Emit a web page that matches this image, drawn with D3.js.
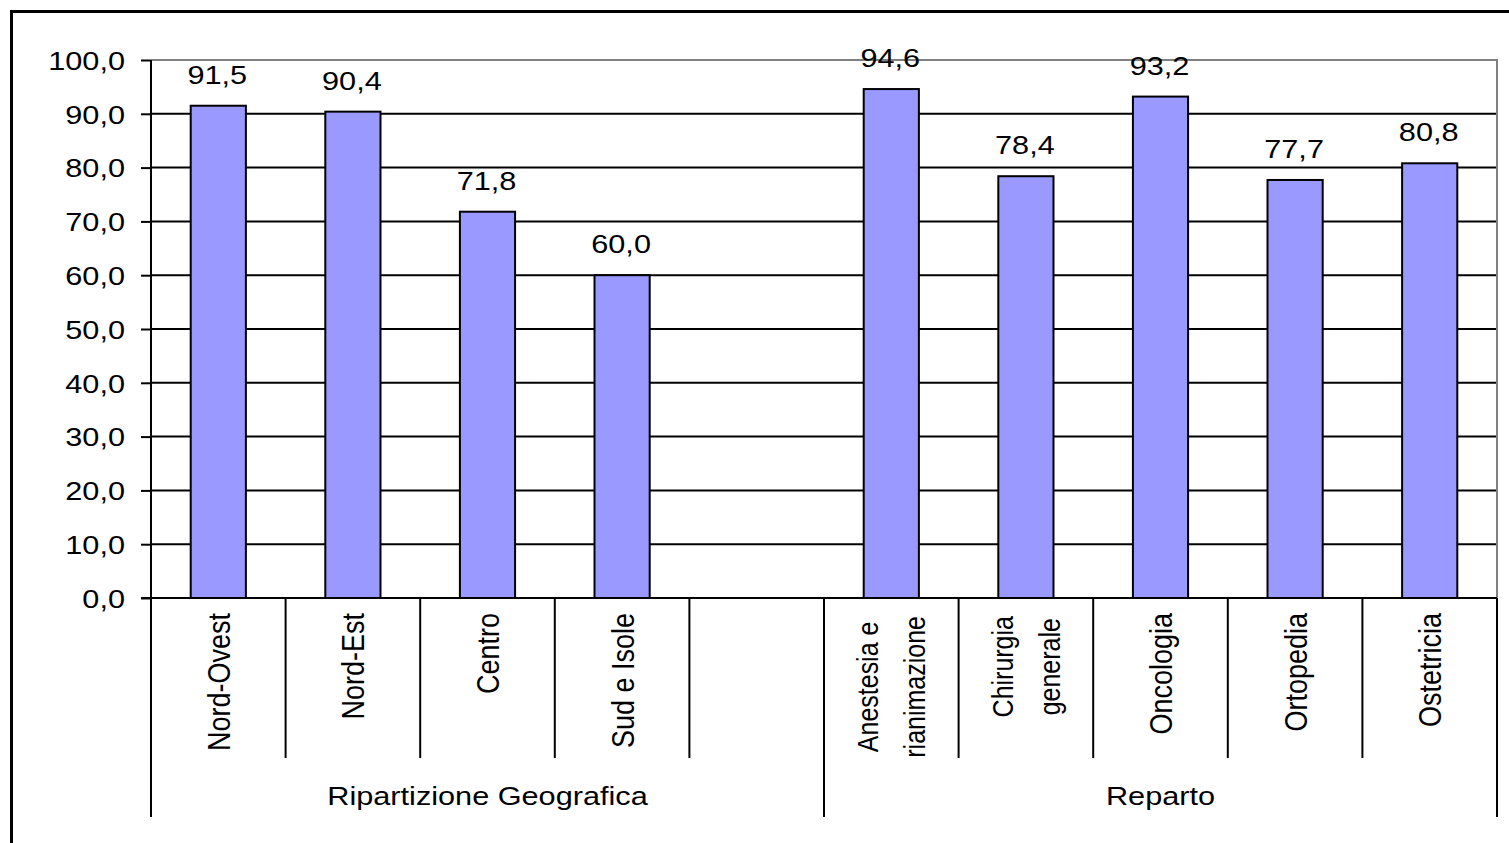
<!DOCTYPE html>
<html><head><meta charset="utf-8">
<script src="https://cdn.jsdelivr.net/npm/d3@7"></script>
<style>body{margin:0;background:#fff}svg{display:block}text{font-family:"Liberation Sans",Arial,sans-serif;fill:#000}</style>
</head><body>
<svg id="c" width="1509" height="843"></svg>
<script>
// Data
const categories = [
  ["Nord-Ovest"], ["Nord-Est"], ["Centro"], ["Sud e Isole"], [],
  ["Anestesia e", "rianimazione"], ["Chirurgia", "generale"], ["Oncologia"], ["Ortopedia"], ["Ostetricia"]
];
const values = [91.5, 90.4, 71.8, 60.0, null, 94.6, 78.4, 93.2, 77.7, 80.8];
const groups = ["Ripartizione Geografica", "Reparto"];
const groupSpans = [[0, 4], [5, 9]];
const yTicks = [0, 10, 20, 30, 40, 50, 60, 70, 80, 90, 100];

const SX = 1.18;
const svg = d3.select("#c");
const L = 151, R = 1497, T = 60, B = 598;
const keys = d3.range(categories.length);
const x = d3.scaleBand().domain(keys).range([L, R]).padding(0);
const y = d3.scaleLinear().domain([0, 100]).range([B, T]);
const fmt = v => d3.format(".1f")(v).replace(".", ",");

// outer border
svg.append("rect").attr("x", 11.5).attr("y", 11.5).attr("width", 1600).attr("height", 900)
  .attr("fill", "none").attr("stroke", "#000").attr("stroke-width", 3);

// gridlines
svg.append("g").selectAll("line").data(yTicks.filter(t => t > 0 && t < 100)).join("line")
  .attr("x1", L).attr("x2", R).attr("y1", d => y(d)).attr("y2", d => y(d))
  .attr("stroke", "#000").attr("stroke-width", 2);
// plot border top/right (gray)
svg.append("path").attr("d", `M${L},${y(100)}H${R}V${B}`).attr("fill", "none")
  .attr("stroke", "#808080").attr("stroke-width", 2);

// bars
const bw = x.bandwidth() * 0.41;
svg.append("g").selectAll("rect").data(keys.filter(i => values[i] != null)).join("rect")
  .attr("x", i => x(i) + x.bandwidth() / 2 - bw / 2)
  .attr("y", i => y(values[i]))
  .attr("width", bw)
  .attr("height", i => y(0) - y(values[i]))
  .attr("fill", "#9999FF").attr("stroke", "#000").attr("stroke-width", 2);

// value labels
svg.append("g").selectAll("text").data(keys.filter(i => values[i] != null)).join("text")
  .attr("transform", i => `translate(${x(i) + x.bandwidth() / 2 - 1},${y(values[i]) - 22}) scale(${SX},1)`)
  .attr("text-anchor", "middle").attr("font-size", 26)
  .text(i => fmt(values[i]));

// y axis
const ax = svg.append("g").attr("transform", `translate(${L},0)`)
  .call(d3.axisLeft(y).tickValues(yTicks).tickSize(10).tickSizeOuter(0).tickFormat(fmt));
ax.select(".domain").remove();
ax.selectAll(".tick line").attr("stroke", "#000").attr("stroke-width", 2);
ax.selectAll(".tick text").attr("x", null).attr("dy", "0.36em")
  .attr("transform", `translate(-26,0) scale(${SX},1)`)
  .attr("font-size", 26).attr("font-family", '"Liberation Sans",Arial,sans-serif').attr("fill", "#000");
// axis line
svg.append("line").attr("x1", L).attr("x2", L).attr("y1", y(100)).attr("y2", 817)
  .attr("stroke", "#000").attr("stroke-width", 2);
// baseline
svg.append("line").attr("x1", L - 10).attr("x2", R).attr("y1", B).attr("y2", B)
  .attr("stroke", "#000").attr("stroke-width", 2);

// category separators
const inner = keys.slice(1).filter(i => !groupSpans.some(s => s[0] === i));
svg.append("g").selectAll("line").data(inner).join("line")
  .attr("x1", i => x(i)).attr("x2", i => x(i)).attr("y1", B).attr("y2", 758)
  .attr("stroke", "#000").attr("stroke-width", 2);
// group separators
const gEdges = [groupSpans[1][0]].map(i => x(i)).concat([R]);
svg.append("g").selectAll("line").data(gEdges).join("line")
  .attr("x1", d => d).attr("x2", d => d).attr("y1", B).attr("y2", 817)
  .attr("stroke", "#000").attr("stroke-width", 2);

// category labels
const cl = svg.append("g");
keys.forEach(i => {
  const lines = categories[i];
  const n = lines.length;
  if (n === 0) return;
  const cx = x(i) + x.bandwidth() / 2;
  if (n === 1) {
    cl.append("text")
      .attr("transform", `translate(${cx},613) scale(${SX},1) rotate(-90)`)
      .attr("text-anchor", "end").attr("dy", "0.36em").attr("font-size", 27)
      .text(lines[0]);
  } else {
    const ts = lines.map((t, j) => cl.append("text")
      .attr("text-anchor", "middle").attr("dy", "0.36em").attr("font-size", 25).text(t));
    const maxLen = d3.max(ts, s => s.node().getComputedTextLength());
    const cy = 616 + maxLen / 2;
    ts.forEach((s, j) => {
      const off = (j - (n - 1) / 2) * 47;
      s.attr("transform", `translate(${cx + off},${cy}) scale(${SX},1) rotate(-90)`);
    });
  }
});

// group labels
svg.append("g").selectAll("text").data(groups).join("text")
  .attr("transform", (g, k) => {
    const s = groupSpans[k];
    const cx = (x(s[0]) + x(s[1]) + x.bandwidth()) / 2;
    return `translate(${cx},805) scale(${SX},1)`;
  })
  .attr("text-anchor", "middle").attr("font-size", 26)
  .text(d => d);
</script>
</body></html>
